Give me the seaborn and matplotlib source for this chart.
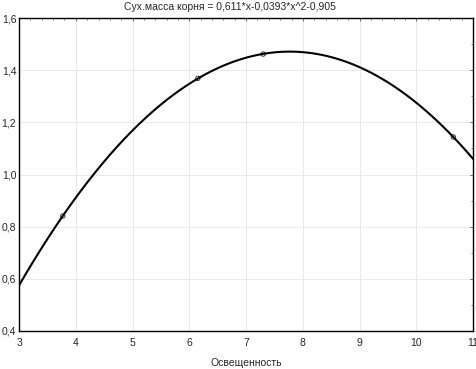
import matplotlib
matplotlib.use("Agg")
import matplotlib.pyplot as plt
import matplotlib.ticker as mticker
import numpy as np
import pandas as pd
import seaborn as sns

# points
light = [3.77, 6.15, 7.30, 10.65]
root_mass = [0.841, 1.369, 1.462, 1.144]

df = pd.DataFrame({"Освещенность": light, "Сух.масса корня": root_mass})

sns.set_style("white")
plt.rcParams["font.family"] = ["Liberation Sans", "DejaVu Sans"]
plt.rcParams["font.size"] = 7.5

fig = plt.figure(figsize=(4.77, 3.69), dpi=100)
ax = fig.add_axes([0.040, 0.103, 0.952, 0.848])

# quadratic fit drawn over the whole x range
ax.set_xlim(3, 11)
sns.regplot(data=df, x="Освещенность", y="Сух.масса корня", order=2, ci=None,
            truncate=False, ax=ax,
            scatter_kws=dict(s=10, facecolors="none", edgecolors="black", linewidths=0.7),
            line_kws=dict(color="black", lw=1.5))

ax.set_xlim(3, 11)
ax.set_ylim(0.4, 1.6)
ax.xaxis.set_major_locator(mticker.MultipleLocator(1))
ax.xaxis.set_minor_locator(mticker.MultipleLocator(0.2))
ax.yaxis.set_major_locator(mticker.MultipleLocator(0.2))
ax.yaxis.set_minor_locator(mticker.MultipleLocator(0.1))
ax.yaxis.set_major_formatter(mticker.FuncFormatter(lambda v, p: f"{v:.1f}".replace(".", ",")))

ax.grid(True, which="major", color="#e8e8e8", lw=0.7)
ax.tick_params(which="both", direction="in", top=True, right=True, labelsize=7.5, color="#555555")
ax.tick_params(which="major", length=2.5, width=0.6)
ax.tick_params(which="minor", length=1.5, width=0.5)
ax.tick_params(axis="x", which="major", pad=5)
ax.tick_params(axis="y", which="major", pad=2)
for s in ax.spines.values():
    s.set_color("black")
    s.set_linewidth(1.0)

ax.set_title("Сух.масса корня = 0,611*x-0,0393*x^2-0,905", fontsize=7.5, pad=6, x=0.464)
ax.set_xlabel("Освещенность", fontsize=7.5, labelpad=7)
ax.set_ylabel("")

fig.savefig("out.png", dpi=100)
